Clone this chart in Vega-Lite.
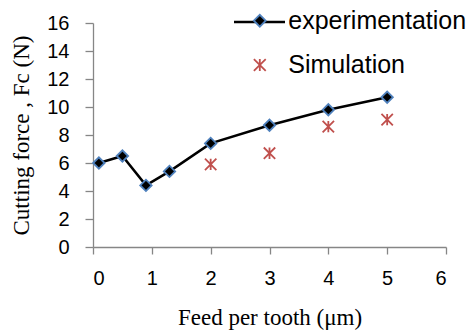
{
  "$schema": "https://vega.github.io/schema/vega-lite/v6.json",
  "width": 353,
  "height": 224,
  "autosize": {"type": "none"},
  "padding": {"left": 93, "top": 23, "right": 24, "bottom": 84},
  "background": "white",
  "config": {
    "view": {"stroke": null},
    "axis": {
      "grid": false,
      "domainColor": "#868686",
      "domainWidth": 1.3,
      "tickColor": "#868686",
      "tickWidth": 1.3,
      "labelFont": "Liberation Sans",
      "labelFontSize": 20,
      "labelColor": "#000000",
      "titleFont": "Liberation Serif",
      "titleFontSize": 23,
      "titleFontWeight": "normal",
      "titleColor": "#000000"
    },
    "legend": {
      "labelFont": "Liberation Sans",
      "labelFontSize": 25,
      "labelColor": "#000000",
      "labelLimit": 0,
      "padding": 0
    }
  },
  "data": {
    "values": [
      {"feed": 0.1, "force": 6.0, "series": "experimentation"},
      {"feed": 0.5, "force": 6.5, "series": "experimentation"},
      {"feed": 0.9, "force": 4.4, "series": "experimentation"},
      {"feed": 1.3, "force": 5.4, "series": "experimentation"},
      {"feed": 2, "force": 7.4, "series": "experimentation"},
      {"feed": 3, "force": 8.7, "series": "experimentation"},
      {"feed": 4, "force": 9.8, "series": "experimentation"},
      {"feed": 5, "force": 10.7, "series": "experimentation"},
      {"feed": 2, "force": 5.9, "series": "Simulation"},
      {"feed": 3, "force": 6.7, "series": "Simulation"},
      {"feed": 4, "force": 8.6, "series": "Simulation"},
      {"feed": 5, "force": 9.1, "series": "Simulation"}
    ]
  },
  "encoding": {
    "x": {
      "field": "feed",
      "type": "quantitative",
      "scale": {"domain": [0, 6], "nice": false, "zero": false},
      "axis": {
        "title": "Feed per tooth (\u03bcm)",
        "values": [0, 1, 2, 3, 4, 5, 6],
        "tickSize": 7,
        "labelPadding": 14,
        "titleBaseline": "alphabetic",
        "titleY": 77
      }
    },
    "y": {
      "field": "force",
      "type": "quantitative",
      "scale": {"domain": [0, 16], "nice": false},
      "axis": {
        "title": "Cutting force , Fc (N)",
        "values": [0, 2, 4, 6, 8, 10, 12, 14, 16],
        "tickSize": 8,
        "labelPadding": 16,
        "titleAngle": -90,
        "titleBaseline": "alphabetic",
        "titleAlign": "center",
        "titleX": -64.5,
        "titleY": 112
      }
    }
  },
  "layer": [
    {
      "transform": [{"filter": "datum.series === 'experimentation'"}],
      "mark": {"type": "line", "strokeWidth": 2.5},
      "encoding": {
        "color": {
          "field": "series",
          "type": "nominal",
          "scale": {"domain": ["experimentation"], "range": ["#000000"]},
          "legend": {
            "title": null,
            "orient": "none",
            "legendX": 139.5,
            "legendY": -28,
            "symbolType": "stroke",
            "symbolSize": 2601,
            "symbolStrokeWidth": 2.5,
            "labelOpacity": 0,
            "labelExpr": "''"
          }
        }
      }
    },
    {
      "mark": {"type": "point", "opacity": 1, "strokeWidth": 1.8, "size": 130},
      "encoding": {
        "shape": {
          "field": "series",
          "type": "nominal",
          "scale": {"domain": ["experimentation", "Simulation"], "range": ["diamond", "M0,-1L0,1M-1,-1L1,1M-1,1L1,-1"]},
          "legend": {
            "title": null,
            "orient": "none",
            "legendX": 154.3,
            "legendY": -14.8,
            "symbolSize": 140,
            "symbolStrokeWidth": 1.8,
            "labelOffset": 16,
            "rowPadding": 18.3
          }
        },
        "fill": {
          "field": "series",
          "type": "nominal",
          "scale": {"domain": ["experimentation", "Simulation"], "range": ["#000000", "rgba(0,0,0,0)"]},
          "legend": {
            "title": null,
            "orient": "none",
            "legendX": 154.3,
            "legendY": -14.8,
            "symbolSize": 140,
            "symbolStrokeWidth": 1.8,
            "labelOffset": 16,
            "rowPadding": 18.3
          }
        },
        "stroke": {
          "field": "series",
          "type": "nominal",
          "scale": {"domain": ["experimentation", "Simulation"], "range": ["#4F81BD", "#C0504D"]},
          "legend": {
            "title": null,
            "orient": "none",
            "legendX": 154.3,
            "legendY": -14.8,
            "symbolSize": 140,
            "symbolStrokeWidth": 1.8,
            "labelOffset": 16,
            "rowPadding": 18.3
          }
        }
      }
    }
  ]
}
